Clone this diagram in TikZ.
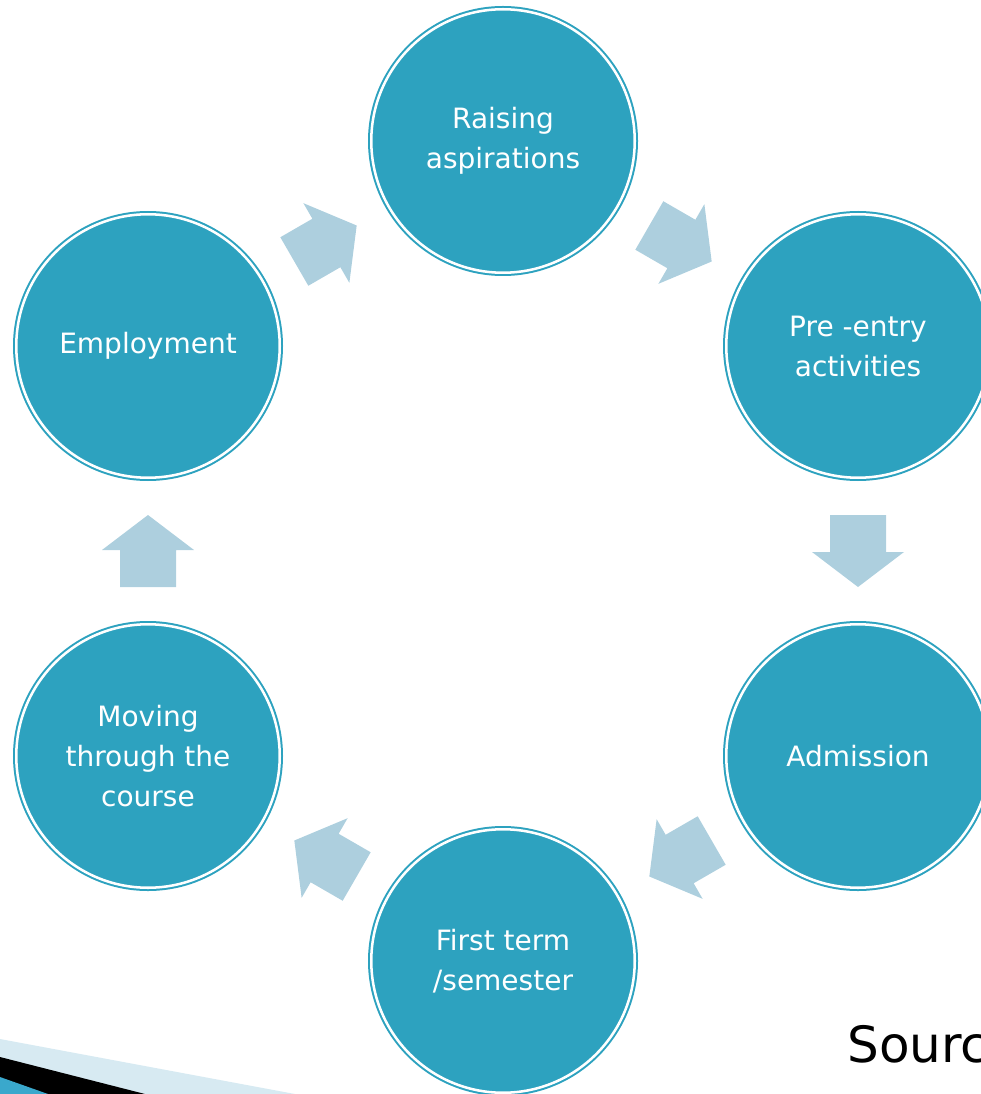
\documentclass[tikz,border=0pt]{standalone}
\usepackage{fontspec}
\setmainfont{DejaVu Sans}
\usetikzlibrary{calc}
\definecolor{teal1}{HTML}{2DA2BF}
\definecolor{arrowc}{HTML}{ADCFDE}
\definecolor{bandlight}{HTML}{D7EAF2}
\definecolor{bandblue}{HTML}{3AA8CC}
\tikzset{
  stage/.style={circle, inner sep=0pt, minimum size=197.6pt, fill=teal1,
    draw=teal1, line width=1.5pt, double=white, double distance=1.9pt,
    text=white, align=center, font=\fontsize{21}{30}\selectfont},
  blockarrow/.style={fill=arrowc}
}
\newcommand{\blkarrow}[3]{%
  \fill[blockarrow, shift={($(#1)!0.5!(#2)$)}, rotate=#3]
    (-36,-28) -- (1,-28) -- (1,-46) -- (36,0) -- (1,46) -- (1,28) -- (-36,28) -- cycle;}
\begin{document}
\begin{tikzpicture}[x=0.75pt, y=0.75pt]
\useasboundingbox (0,0) rectangle (980,-1094);
% bottom-left decoration
\fill[bandlight] (0,-1039) -- (295,-1094) -- (0,-1094) -- cycle;
\fill[black] (0,-1057) -- (145,-1094) -- (0,-1094) -- cycle;
\fill[bandblue] (0,-1077) -- (48,-1094) -- (0,-1094) -- cycle;
% stages
\node[stage] (ra) at (503,-141) {Raising\\aspirations};
\node[stage] (pe) at (858,-346) {Pre -entry\\activities};
\node[stage] (ad) at (858,-756) {Admission};
\node[stage] (ft) at (503,-961) {First term\\/semester};
\node[stage] (mv) at (148,-756) {Moving\\through the\\course};
\node[stage] (em) at (148,-346) {Employment};
% arrows
\blkarrow{ra}{pe}{-30}
\blkarrow{pe}{ad}{-90}
\blkarrow{ad}{ft}{210}
\blkarrow{ft}{mv}{150}
\blkarrow{mv}{em}{90}
\blkarrow{em}{ra}{30}
% source text
\node[anchor=base west, inner sep=0pt, font=\fontsize{37.5}{45}\selectfont] (src) at (847,-1062) {Source};
\end{tikzpicture}
\end{document}
